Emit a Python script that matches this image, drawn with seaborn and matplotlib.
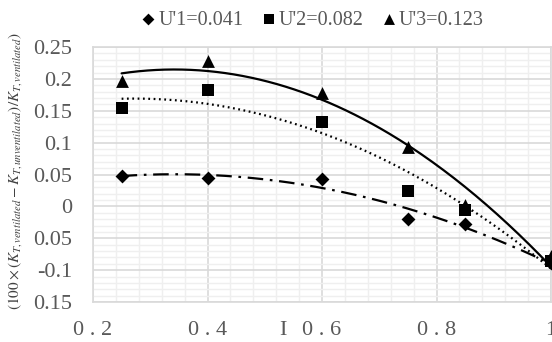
import numpy as np
import matplotlib
matplotlib.use("Agg")
import matplotlib.pyplot as plt
import seaborn as sns
from matplotlib.ticker import FixedLocator, FixedFormatter, MultipleLocator

# ==============================
# DATA
# ==============================
x_vals = [0.25, 0.4, 0.6, 0.75, 0.85, 1.0]
u1 = [0.048, 0.045, 0.043, -0.020, -0.028, -0.089]
u2 = [0.154, 0.182, 0.132, 0.024, -0.005, -0.085]
u3 = [0.197, 0.228, 0.178, 0.093, 0.002, -0.078]
series_names = ["U'1=0.041", "U'2=0.082", "U'3=0.123"]

y_ticks = [-0.15, -0.1, -0.05, 0, 0.05, 0.1, 0.15, 0.2, 0.25]
y_ticklabels = ["0.15", "-0.1", "0.05", "0", "0.05", "0.1", "0.15", "0.2", "0.25"]
x_ticks = [0.2, 0.4, 0.6, 0.8, 1.0]
x_ticklabels = ["0 . 2", "0 . 4", "0 . 6", "0 . 8", "1"]

sns.set_style("white")
plt.rcParams['font.family'] = ['Liberation Serif', 'DejaVu Serif']
plt.rcParams['mathtext.fontset'] = 'stix'

GRAY = "#595959"
GRID = "#d9d9d9"
MINOR = "#efefef"

fig = plt.figure(figsize=(5.52, 3.42), dpi=100)
ax = fig.add_axes([93/552, 40/342, 458/552, 255/342])

markers = ["D", "s", "^"]
msizes = [50, 75, 85]
styles = [(0, (7, 3, 1.2, 3)), (0, (0.8, 1.6)), "-"]

for ys, name, mk, ms, ls in zip([u1, u2, u3], series_names, markers, msizes, styles):
    sns.scatterplot(x=x_vals, y=ys, marker=mk, s=ms, color="black", edgecolor="black",
                    linewidth=0, ax=ax, label=name, zorder=4, clip_on=False)
    # 2nd order polynomial trendline
    coef = np.polyfit(x_vals, ys, 2)
    xx = np.linspace(min(x_vals), max(x_vals), 200)
    sns.lineplot(x=xx, y=np.polyval(coef, xx), color="black", linestyle=ls,
                 linewidth=1.6, ax=ax, legend=False, zorder=3)

ax.set_xlim(0.2, 1.0)
ax.set_ylim(-0.15, 0.25)
ax.xaxis.set_major_locator(FixedLocator(x_ticks))
ax.xaxis.set_major_formatter(FixedFormatter(x_ticklabels))
ax.yaxis.set_major_locator(FixedLocator(y_ticks))
ax.yaxis.set_major_formatter(FixedFormatter(y_ticklabels))
ax.xaxis.set_minor_locator(MultipleLocator(0.04))
ax.yaxis.set_minor_locator(MultipleLocator(0.01))

ax.grid(which="major", color=GRID, linewidth=1.2, zorder=1)
ax.grid(which="minor", color=MINOR, linewidth=1.0, zorder=0)
ax.set_axisbelow(True)
for sp in ax.spines.values():
    sp.set_color(GRID)
    sp.set_linewidth(1.2)

ax.tick_params(axis="both", which="both", length=0, labelsize=16, labelcolor=GRAY)
ax.tick_params(axis="y", pad=15)
ax.tick_params(axis="x", pad=14)

ax.text(0.414, -0.112, "I", transform=ax.transAxes, ha="center", va="center",
        fontsize=16, color=GRAY)

fig.text(15/552, 0.5,
         r"$(100\times(K_{T,ventilated}-K_{T,unventilated})/K_{T,ventilated})$",
         rotation=90, ha="center", va="center", fontsize=11, color="#404040")

ax.legend(loc="center", bbox_to_anchor=(0.566, 322/342), bbox_transform=fig.transFigure,
          ncol=3, frameon=False, fontsize=14.5, handlelength=0.7, handletextpad=0.15,
          columnspacing=0.9, labelcolor=GRAY, markerscale=0.85, borderaxespad=0)

plt.savefig("out.png", dpi=100)
plt.close()
